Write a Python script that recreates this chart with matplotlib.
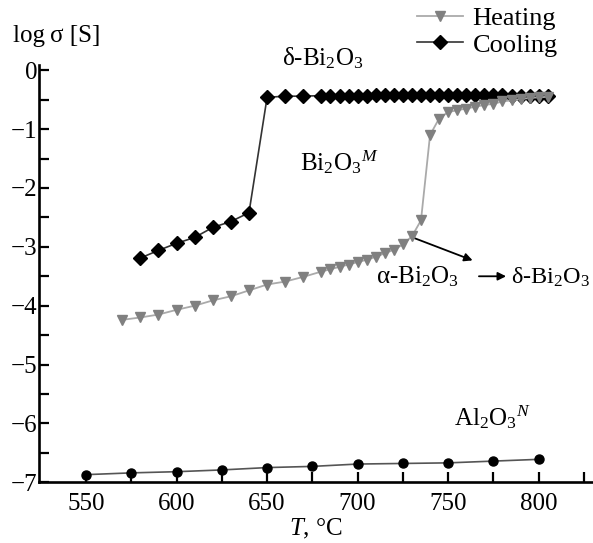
import numpy as np
import matplotlib
matplotlib.use('Agg')
import matplotlib.pyplot as plt

plt.rcParams['font.family'] = ['Liberation Serif', 'DejaVu Serif']
plt.rcParams['mathtext.fontset'] = 'custom'
plt.rcParams['mathtext.rm'] = 'Liberation Serif'
plt.rcParams['mathtext.it'] = 'Liberation Serif:italic'

# heating run (Bi2O3^M)
T_heat = [570, 580, 590, 600, 610, 620, 630, 640, 650, 660, 670, 680,
          685, 690, 695, 700, 705, 710, 715, 720, 725, 730, 735, 740,
          745, 750, 755, 760, 765, 770, 775, 780, 785, 790, 795, 800, 805]
logS_heat = [-4.24, -4.20, -4.15, -4.07, -4.00, -3.91, -3.84, -3.74, -3.64, -3.59, -3.51, -3.42,
             -3.38, -3.34, -3.30, -3.26, -3.22, -3.17, -3.11, -3.05, -2.96, -2.82, -2.55, -1.10,
             -0.82, -0.71, -0.68, -0.65, -0.62, -0.59, -0.57, -0.53, -0.51, -0.49, -0.47, -0.46, -0.45]

# cooling run
T_cool = [580, 590, 600, 610, 620, 630, 640, 650, 660, 670,
          680, 685, 690, 695, 700, 705, 710, 715, 720, 725, 730, 735, 740,
          745, 750, 755, 760, 765, 770, 775, 780, 785, 790, 795, 800, 805]
logS_cool = [-3.19, -3.06, -2.94, -2.84, -2.67, -2.57, -2.42, -0.46, -0.44, -0.44,
             -0.43, -0.43, -0.43, -0.43, -0.43, -0.43, -0.42, -0.42, -0.42, -0.42, -0.42, -0.42, -0.42,
             -0.42, -0.42, -0.42, -0.42, -0.42, -0.42, -0.42, -0.42, -0.43, -0.43, -0.43, -0.43, -0.43]

# Al2O3^N
T_al = [550, 575, 600, 625, 650, 675, 700, 725, 750, 775, 800]
logS_al = [-6.87, -6.84, -6.82, -6.79, -6.75, -6.73, -6.69, -6.68, -6.67, -6.64, -6.61]

fig = plt.figure(figsize=(5.93, 5.43), dpi=100)
ax = fig.add_axes([0.0663, 0.1118, 0.9337, 0.768])

ax.plot(T_cool, logS_cool, color='#333333', lw=1.2, marker='D', ms=7.3,
        mfc='black', mec='black', label='Cooling', zorder=3)
ax.plot(T_heat, logS_heat, color='#aaaaaa', lw=1.3, marker='v', ms=7.5,
        mfc='#808080', mec='#808080', label='Heating', zorder=4)
ax.plot(T_al, logS_al, color='#555555', lw=1.2, marker='o', ms=6.5,
        mfc='black', mec='black', zorder=3)

ax.set_xlim(524.2, 830)
ax.set_ylim(-7, 0.085)
ax.spines['top'].set_visible(False)
ax.spines['right'].set_visible(False)
for s in ['left', 'bottom']:
    ax.spines[s].set_linewidth(1.9)

ax.set_xticks(np.arange(550, 801, 50))
ax.set_xticks(np.arange(575, 826, 50), minor=True)
ax.set_yticks(np.arange(-7, 1, 1))
ax.set_yticks(np.arange(-6.5, 0, 1), minor=True)
ax.tick_params(which='both', direction='in', length=7, width=1.6, labelsize=18)
ax.tick_params(axis='y', which='both', pad=1.5)
ax.tick_params(axis='x', which='both', pad=8)

ax.set_xlabel('$T$, °C', fontsize=18, labelpad=1)
fig.text(13 / 593, 1 - 41.7 / 543, 'log\u2009σ [S]', fontsize=18, va='baseline', ha='left')

ax.text(658, 0.085, 'δ-Bi$_2$O$_3$', fontsize=18, va='baseline', ha='left')
ax.text(668, -1.70, 'Bi$_2$O$_3$$^{M}$', fontsize=18, va='baseline', ha='left')
ax.text(733, -3.62, 'α-Bi$_2$O$_3$', fontsize=18, va='baseline', ha='center')
ax.text(784.5, -3.62, 'δ-Bi$_2$O$_3$', fontsize=17.5, va='baseline', ha='left')
ax.text(753, -6.03, 'Al$_2$O$_3$$^{N}$', fontsize=18, va='baseline', ha='left')

ax.annotate('', xy=(763.5, -3.23), xytext=(729.5, -2.83),
            arrowprops=dict(arrowstyle='-|>', color='black', lw=1.3,
                            mutation_scale=12, shrinkA=0, shrinkB=0))
ax.annotate('', xy=(782, -3.50), xytext=(767, -3.50),
            arrowprops=dict(arrowstyle='-|>', color='black', lw=1.3,
                            mutation_scale=12, shrinkA=0, shrinkB=0))

ax.legend(handles=ax.get_lines()[:2][::-1], loc='upper left',
          bbox_to_anchor=(417 / 593, 1 - 7 / 543), bbox_transform=fig.transFigure,
          frameon=False, fontsize=19, borderpad=0, borderaxespad=0,
          handlelength=1.75, handletextpad=0.35, labelspacing=0.1, numpoints=1)

fig.savefig('out.png', dpi=100)
